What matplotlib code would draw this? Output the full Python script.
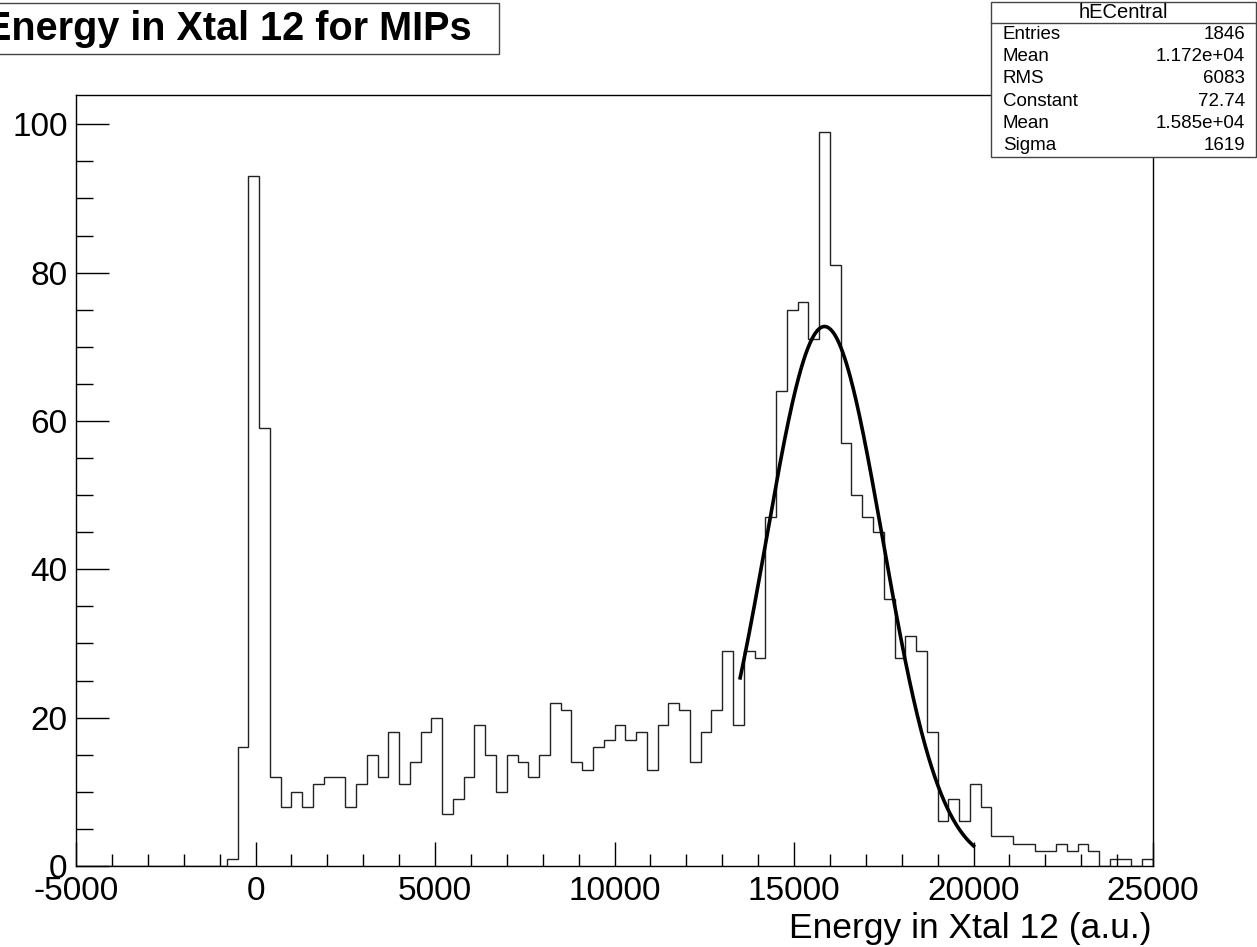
import numpy as np
import matplotlib
matplotlib.use("Agg")
import matplotlib.pyplot as plt
from matplotlib.ticker import MultipleLocator
from matplotlib.patches import Rectangle

plt.rcParams['font.family'] = ['Liberation Sans', 'DejaVu Sans']
plt.rcParams['axes.unicode_minus'] = False

# histogram hECentral: 100 bins from -5000 to 25000
x_min, x_max, n_bins = -5000, 25000, 100
counts = [0] * 14 + [
    1, 16, 93, 59, 12, 8, 10, 8, 11, 12,
    12, 8, 11, 15, 12, 18, 11, 14, 18, 20,
    7, 9, 12, 19, 15, 10, 15, 14, 12, 15,
    22, 21, 14, 13, 16, 17, 19, 17, 18, 13,
    19, 22, 21, 14, 18, 21, 29, 19, 29, 28,
    47, 64, 75, 76, 71, 99, 81, 57, 50, 47,
    45, 36, 28, 31, 29, 18, 6, 9, 6, 11,
    8, 4, 4, 3, 3, 2, 2, 3, 2, 3,
    2, 0, 1, 1, 0, 1,
]

# gaussian fit results shown in the stats box
fit_const, fit_mean, fit_sigma = 72.74, 1.585e4, 1619
fit_range = (13500, 20000)

stat_labels = ['Entries', 'Mean', 'RMS', 'Constant', 'Mean', 'Sigma']
stat_values = ['1846', '1.172e+04', '6083', '72.74', '1.585e+04', '1619']

W, H = 1257, 947
fig = plt.figure(figsize=(W / 100, H / 100), dpi=100)

def fx(px):
    return px / W

def fy(py):
    return 1 - py / H

ax = fig.add_axes([fx(76), fy(866), fx(1153) - fx(76), fy(95) - fy(866)])

edges = np.linspace(x_min, x_max, n_bins + 1)
ax.stairs(counts, edges, baseline=0, color='#222222', lw=1.0)

xf = np.linspace(fit_range[0], fit_range[1], 300)
yf = fit_const * np.exp(-0.5 * ((xf - fit_mean) / fit_sigma) ** 2)
ax.plot(xf, yf, color='black', lw=2.6)

ax.set_xlim(x_min, x_max)
ax.set_ylim(0, max(counts) * 1.05)
ax.xaxis.set_major_locator(MultipleLocator(5000))
ax.xaxis.set_minor_locator(MultipleLocator(1000))
ax.yaxis.set_major_locator(MultipleLocator(20))
ax.yaxis.set_minor_locator(MultipleLocator(5))
ax.tick_params(axis='both', which='both', direction='in', top=False, right=False,
               width=1.0, labelsize=24)
ax.tick_params(axis='x', which='major', length=17, pad=7)
ax.tick_params(axis='x', which='minor', length=9)
ax.tick_params(axis='y', which='major', length=24, pad=6)
ax.tick_params(axis='y', which='minor', length=12)
for s in ax.spines.values():
    s.set_linewidth(1.0)

fig.text(fx(1152), fy(938), 'Energy in Xtal 12 (a.u.)', ha='right', va='baseline',
         fontsize=25.5)

# title box
fig.patches.append(Rectangle((fx(-10), fy(54)), fx(509), fy(3) - fy(54),
                             transform=fig.transFigure, fill=False,
                             edgecolor='#444444', lw=1.0))
fig.text(fx(472), fy(40), 'Energy in Xtal 12 for MIPs', ha='right', va='baseline',
         fontsize=28.5, fontweight='bold')

# stats box
bx0, by0, bx1, by1 = 991, 2, 1256, 157
fig.patches.append(Rectangle((fx(bx0), fy(by1)), fx(bx1 - bx0), fy(by0) - fy(by1),
                             transform=fig.transFigure, facecolor='white',
                             edgecolor='#444444', lw=1.0))
fig.lines.append(plt.Line2D([fx(bx0), fx(bx1)], [fy(23), fy(23)],
                            transform=fig.transFigure, color='#444444', lw=1.0))
fig.text(fx((bx0 + bx1) / 2), fy(12.5), 'hECentral', ha='center', va='center',
         fontsize=14.5)
row_h = (by1 - 23) / len(stat_labels)
for i, (lab, val) in enumerate(zip(stat_labels, stat_values)):
    yc = 23 + row_h * (i + 0.5)
    fig.text(fx(1003), fy(yc), lab, ha='left', va='center', fontsize=13.5)
    fig.text(fx(1245), fy(yc), val, ha='right', va='center', fontsize=13.5)

fig.savefig('out.png', dpi=100)
